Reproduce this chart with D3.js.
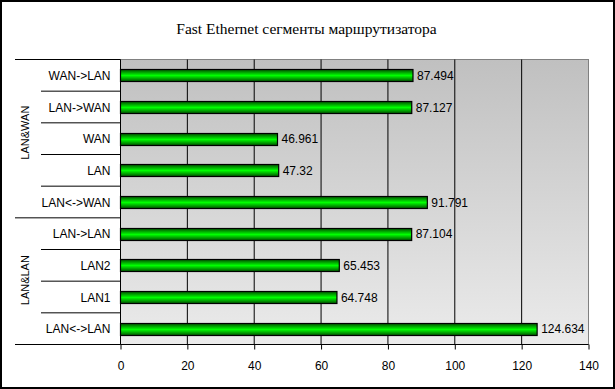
<!DOCTYPE html>
<html><head><meta charset="utf-8">
<script src="https://cdn.jsdelivr.net/npm/d3@7"></script>
<style>body{margin:0;background:#fff}svg{display:block}</style>
</head><body>
<script>
const title = "Fast Ethernet сегменты маршрутизатора";
const categories = ["WAN->LAN","LAN->WAN","WAN","LAN","LAN<->WAN","LAN->LAN","LAN2","LAN1","LAN<->LAN"];
const values = [87.494,87.127,46.961,47.32,91.791,87.104,65.453,64.748,124.634];
const valueLabels = ["87.494","87.127","46.961","47.32","91.791","87.104","65.453","64.748","124.634"];
const groups = ["LAN&WAN","LAN&LAN"];
const groupCounts = [5,4];
const xTicks = [0,20,40,60,80,100,120,140];

const W=615,H=389;
const L=120.5,R=588.5,T=59.5,B=344.5;
const groupShift=[-6,-1];
const svg=d3.select("body").append("svg").attr("width",W).attr("height",H);
const defs=svg.append("defs");
const bg=defs.append("linearGradient").attr("id","bg").attr("x1",0).attr("y1",0).attr("x2",0).attr("y2",1);
bg.append("stop").attr("offset",0).attr("stop-color","#c0c0c0");
bg.append("stop").attr("offset",1).attr("stop-color","#ebebeb");
const gg=defs.append("linearGradient").attr("id","gb").attr("x1",0).attr("y1",0).attr("x2",0).attr("y2",1);
gg.append("stop").attr("offset",0).attr("stop-color","#005000");
gg.append("stop").attr("offset",0.5).attr("stop-color","#00ff00");
gg.append("stop").attr("offset",1).attr("stop-color","#005000");

svg.append("rect").attr("x",1).attr("y",1).attr("width",W-2).attr("height",H-2).attr("fill","#fff").attr("stroke","#000").attr("stroke-width",2);

svg.append("text").attr("x",306.5).attr("y",33.5).attr("text-anchor","middle")
  .attr("font-family","Liberation Serif, Times New Roman, serif").attr("font-size",15.5).text(title);

const x=d3.scaleLinear().domain([0,140]).range([L,R]);
const y=d3.scaleBand().domain(categories).range([T,B]);

svg.append("rect").attr("x",L).attr("y",T).attr("width",R-L).attr("height",B-T).attr("fill","url(#bg)").attr("stroke","#808080");

svg.append("g").selectAll("line").data(xTicks.filter(d=>d>0&&d<140)).join("line")
  .attr("x1",d=>x(d)).attr("x2",d=>x(d)).attr("y1",T).attr("y2",B).attr("stroke","#000");

const bh=12;
svg.append("g").selectAll("rect").data(categories).join("rect")
  .attr("x",x(0)).attr("y",(d)=>Math.round(y(d)+y.bandwidth()/2-bh/2)+0.5)
  .attr("width",(d,i)=>x(values[i])-x(0)).attr("height",bh)
  .attr("fill","url(#gb)").attr("stroke","#000").attr("stroke-width",1.2);

svg.append("g").selectAll("text").data(categories).join("text")
  .attr("x",(d,i)=>x(values[i])+4).attr("y",d=>y(d)+y.bandwidth()/2+4.5)
  .attr("font-family","Liberation Sans, Arial, sans-serif").attr("font-size",12)
  .text((d,i)=>valueLabels[i]);

const xa=svg.append("g").attr("transform",`translate(0,${B})`)
  .call(d3.axisBottom(x).tickValues(xTicks).tickSize(5).tickPadding(12).tickFormat(d3.format("d")));
xa.select(".domain").attr("stroke","#000").attr("d",`M${L},0H${R}`);
xa.selectAll(".tick line").attr("stroke","#000");
xa.selectAll("text").attr("font-family","Liberation Sans, Arial, sans-serif").attr("font-size",12).attr("fill","#000");

svg.append("line").attr("x1",L).attr("x2",L).attr("y1",T).attr("y2",B).attr("stroke","#000");

svg.append("g").selectAll("text").data(categories).join("text")
  .attr("x",L-10).attr("y",d=>y(d)+y.bandwidth()/2+4.5).attr("text-anchor","end")
  .attr("font-family","Liberation Sans, Arial, sans-serif").attr("font-size",12).text(d=>d);

const lg=svg.append("g").attr("stroke","#000");
lg.append("line").attr("x1",15).attr("x2",L).attr("y1",T).attr("y2",T);
lg.append("line").attr("x1",15).attr("x2",L).attr("y1",B).attr("y2",B);
let idx=0;
groups.forEach((g,gi)=>{
  const start=idx, end=idx+groupCounts[gi];
  for(let k=start+1;k<end;k++){
    const yy=y(categories[k]);
    lg.append("line").attr("x1",41).attr("x2",L).attr("y1",yy).attr("y2",yy);
  }
  if(end<categories.length){
    const yy=y(categories[end]);
    lg.append("line").attr("x1",15).attr("x2",L).attr("y1",yy).attr("y2",yy);
  }
  const cy=(y(categories[start])+y(categories[end-1])+y.bandwidth())/2+groupShift[gi];
  svg.append("text").attr("transform",`translate(28.5,${cy}) rotate(-90)`).attr("text-anchor","middle")
    .attr("font-family","Liberation Sans, Arial, sans-serif").attr("font-size",11).text(g);
  idx=end;
});
</script>
</body></html>
